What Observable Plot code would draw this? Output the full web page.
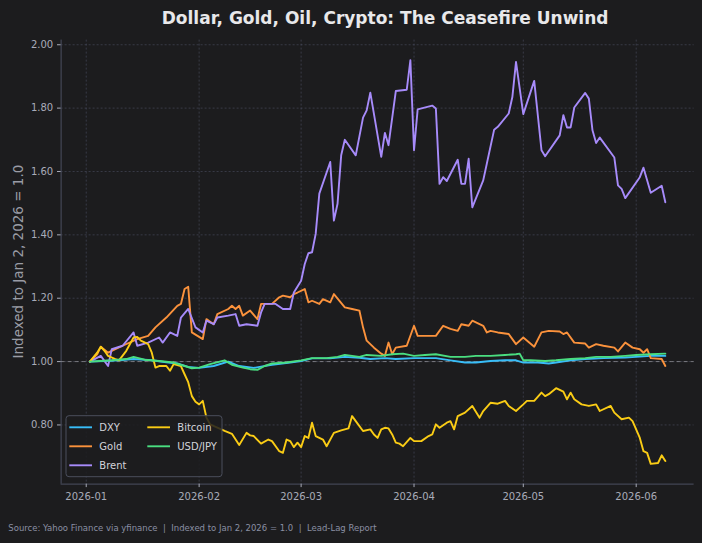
<!DOCTYPE html>
<html>
<head>
<meta charset="utf-8">
<script src="https://cdn.jsdelivr.net/npm/d3@7"></script>
<script src="https://cdn.jsdelivr.net/npm/@observablehq/plot@0.6"></script>
<style>
  html, body { margin: 0; padding: 0; background: #1c1c1e; }
  #chart svg { display: block; }
</style>
</head>
<body>
<div id="chart"></div>
<script>
// Series, in drawing order
const seriesNames = ["DXY", "Gold", "Brent", "Bitcoin", "USD/JPY"];
const seriesColors = ["#38bdf8", "#fb923c", "#a78bfa", "#facc15", "#4ade80"];

// Index values (Jan 2, 2026 = 1.0)
const dxyDates = ["2026-01-02","2026-01-06","2026-01-10","2026-01-14","2026-01-19","2026-01-23","2026-01-26","2026-01-29","2026-02-01","2026-02-05","2026-02-09","2026-02-12","2026-02-16","2026-02-18","2026-02-21","2026-02-26","2026-03-01","2026-03-04","2026-03-09","2026-03-13","2026-03-17","2026-03-20","2026-03-24","2026-03-27","2026-04-01","2026-04-07","2026-04-11","2026-04-15","2026-04-18","2026-04-22","2026-04-26","2026-04-29","2026-05-01","2026-05-05","2026-05-08","2026-05-10","2026-05-14","2026-05-18","2026-05-23","2026-05-29","2026-06-01","2026-06-05","2026-06-09"];
const dxy = [1.000,1.002,1.004,1.008,1.004,0.998,0.994,0.983,0.980,0.986,1.000,0.986,0.980,0.984,0.990,0.997,1.002,1.010,1.010,1.015,1.012,1.008,1.011,1.008,1.011,1.011,1.004,0.997,0.997,1.002,1.004,1.004,0.997,0.997,0.994,0.997,1.004,1.008,1.011,1.013,1.015,1.018,1.018];

const goldDates = ["2026-01-02","2026-01-04","2026-01-05","2026-01-07","2026-01-09","2026-01-11","2026-01-15","2026-01-18","2026-01-20","2026-01-23","2026-01-26","2026-01-27","2026-01-28","2026-01-29","2026-01-30","2026-02-02","2026-02-03","2026-02-05","2026-02-06","2026-02-09","2026-02-10","2026-02-11","2026-02-12","2026-02-13","2026-02-15","2026-02-17","2026-02-18","2026-02-21","2026-02-23","2026-02-24","2026-02-26","2026-02-27","2026-02-28","2026-03-02","2026-03-03","2026-03-04","2026-03-06","2026-03-07","2026-03-09","2026-03-10","2026-03-13","2026-03-15","2026-03-17","2026-03-18","2026-03-19","2026-03-20","2026-03-21","2026-03-23","2026-03-24","2026-03-25","2026-03-26","2026-03-27","2026-03-30","2026-04-01","2026-04-02","2026-04-07","2026-04-09","2026-04-11","2026-04-13","2026-04-14","2026-04-16","2026-04-17","2026-04-20","2026-04-21","2026-04-22","2026-04-24","2026-04-27","2026-04-29","2026-05-01","2026-05-04","2026-05-06","2026-05-08","2026-05-11","2026-05-12","2026-05-13","2026-05-15","2026-05-18","2026-05-19","2026-05-21","2026-05-23","2026-05-26","2026-05-27","2026-05-29","2026-05-31","2026-06-02","2026-06-03","2026-06-04","2026-06-05","2026-06-08","2026-06-09"];
const gold = [1.000,1.023,1.047,1.028,1.039,1.050,1.071,1.081,1.108,1.139,1.176,1.182,1.229,1.236,1.092,1.071,1.134,1.118,1.150,1.166,1.176,1.166,1.176,1.145,1.161,1.134,1.182,1.182,1.203,1.208,1.203,1.213,1.218,1.229,1.187,1.192,1.182,1.197,1.187,1.213,1.171,1.166,1.161,1.108,1.066,1.055,1.044,1.025,1.018,1.060,1.023,1.044,1.050,1.113,1.081,1.081,1.113,1.103,1.097,1.118,1.113,1.129,1.113,1.092,1.097,1.092,1.087,1.055,1.076,1.047,1.092,1.097,1.095,1.087,1.092,1.060,1.057,1.044,1.055,1.050,1.044,1.032,1.060,1.044,1.039,1.028,1.039,1.011,1.008,0.986];

const brentDates = ["2026-01-02","2026-01-05","2026-01-07","2026-01-08","2026-01-11","2026-01-14","2026-01-15","2026-01-18","2026-01-21","2026-01-22","2026-01-24","2026-01-26","2026-01-27","2026-01-29","2026-01-31","2026-02-02","2026-02-03","2026-02-05","2026-02-06","2026-02-09","2026-02-11","2026-02-12","2026-02-14","2026-02-17","2026-02-18","2026-02-19","2026-02-22","2026-02-24","2026-02-26","2026-02-27","2026-03-01","2026-03-02","2026-03-03","2026-03-04","2026-03-05","2026-03-06","2026-03-09","2026-03-10","2026-03-11","2026-03-12","2026-03-13","2026-03-16","2026-03-18","2026-03-19","2026-03-20","2026-03-23","2026-03-24","2026-03-25","2026-03-27","2026-03-30","2026-03-31","2026-04-01","2026-04-02","2026-04-06","2026-04-07","2026-04-08","2026-04-09","2026-04-10","2026-04-13","2026-04-14","2026-04-15","2026-04-16","2026-04-17","2026-04-20","2026-04-21","2026-04-23","2026-04-24","2026-04-27","2026-04-28","2026-04-29","2026-05-01","2026-05-04","2026-05-06","2026-05-07","2026-05-11","2026-05-12","2026-05-13","2026-05-14","2026-05-15","2026-05-18","2026-05-19","2026-05-20","2026-05-21","2026-05-22","2026-05-26","2026-05-27","2026-05-28","2026-05-29","2026-06-02","2026-06-03","2026-06-05","2026-06-08","2026-06-09"];
const brent = [1.000,1.018,0.986,1.039,1.050,1.092,1.050,1.060,1.076,1.060,1.092,1.081,1.139,1.166,1.108,1.092,1.129,1.118,1.139,1.145,1.150,1.113,1.118,1.113,1.155,1.182,1.182,1.166,1.166,1.218,1.255,1.308,1.342,1.345,1.403,1.530,1.630,1.445,1.498,1.651,1.700,1.651,1.770,1.793,1.849,1.646,1.722,1.683,1.854,1.858,1.951,1.667,1.796,1.808,1.799,1.561,1.582,1.570,1.637,1.561,1.561,1.640,1.487,1.572,1.625,1.732,1.741,1.783,1.835,1.946,1.781,1.886,1.667,1.648,1.714,1.778,1.739,1.739,1.802,1.848,1.830,1.730,1.690,1.707,1.644,1.556,1.545,1.516,1.582,1.612,1.533,1.555,1.503];

const bitcoinDates = ["2026-01-02","2026-01-04","2026-01-05","2026-01-06","2026-01-07","2026-01-09","2026-01-10","2026-01-12","2026-01-14","2026-01-15","2026-01-16","2026-01-18","2026-01-19","2026-01-20","2026-01-21","2026-01-23","2026-01-24","2026-01-25","2026-01-27","2026-01-28","2026-01-29","2026-01-30","2026-01-31","2026-02-01","2026-02-02","2026-02-03","2026-02-04","2026-02-08","2026-02-10","2026-02-12","2026-02-14","2026-02-15","2026-02-16","2026-02-18","2026-02-20","2026-02-21","2026-02-23","2026-02-24","2026-02-25","2026-02-26","2026-02-27","2026-02-28","2026-03-01","2026-03-02","2026-03-03","2026-03-04","2026-03-05","2026-03-07","2026-03-08","2026-03-10","2026-03-12","2026-03-14","2026-03-15","2026-03-16","2026-03-18","2026-03-20","2026-03-21","2026-03-22","2026-03-23","2026-03-24","2026-03-25","2026-03-26","2026-03-27","2026-03-28","2026-03-29","2026-03-31","2026-04-01","2026-04-03","2026-04-05","2026-04-06","2026-04-07","2026-04-08","2026-04-10","2026-04-11","2026-04-12","2026-04-13","2026-04-15","2026-04-17","2026-04-19","2026-04-20","2026-04-22","2026-04-24","2026-04-26","2026-04-27","2026-04-29","2026-05-01","2026-05-02","2026-05-04","2026-05-06","2026-05-07","2026-05-08","2026-05-10","2026-05-12","2026-05-13","2026-05-14","2026-05-15","2026-05-17","2026-05-19","2026-05-21","2026-05-22","2026-05-25","2026-05-26","2026-05-28","2026-05-30","2026-05-31","2026-06-02","2026-06-03","2026-06-04","2026-06-05","2026-06-07","2026-06-08","2026-06-09"];
const bitcoin = [1.000,1.028,1.047,1.034,1.018,1.008,1.004,1.034,1.076,1.078,1.066,1.055,1.028,0.981,0.986,0.986,0.971,0.992,0.986,0.960,0.935,0.891,0.873,0.865,0.876,0.823,0.802,0.781,0.772,0.737,0.775,0.767,0.765,0.741,0.754,0.749,0.717,0.712,0.754,0.749,0.730,0.744,0.730,0.765,0.759,0.807,0.765,0.754,0.733,0.775,0.783,0.789,0.828,0.812,0.781,0.786,0.770,0.759,0.786,0.791,0.789,0.770,0.744,0.741,0.733,0.759,0.749,0.749,0.765,0.770,0.802,0.791,0.807,0.812,0.786,0.828,0.839,0.860,0.823,0.844,0.870,0.867,0.876,0.860,0.844,0.865,0.876,0.876,0.902,0.891,0.897,0.916,0.905,0.881,0.902,0.881,0.865,0.860,0.865,0.844,0.860,0.839,0.818,0.823,0.812,0.759,0.717,0.712,0.677,0.680,0.704,0.686];

const usdjpyDates = ["2026-01-02","2026-01-08","2026-01-12","2026-01-14","2026-01-17","2026-01-21","2026-01-25","2026-01-28","2026-01-30","2026-02-01","2026-02-04","2026-02-08","2026-02-10","2026-02-13","2026-02-15","2026-02-17","2026-02-19","2026-02-21","2026-02-25","2026-03-01","2026-03-04","2026-03-08","2026-03-11","2026-03-13","2026-03-15","2026-03-17","2026-03-19","2026-03-23","2026-03-26","2026-03-29","2026-04-01","2026-04-04","2026-04-07","2026-04-11","2026-04-15","2026-04-18","2026-04-22","2026-04-26","2026-04-29","2026-04-30","2026-05-01","2026-05-03","2026-05-07","2026-05-10","2026-05-14","2026-05-18","2026-05-21","2026-05-25","2026-05-29","2026-06-01","2026-06-05","2026-06-09"];
const usdjpy = [1.000,1.004,1.008,1.015,1.006,1.002,0.997,0.986,0.979,0.981,0.992,1.004,0.990,0.981,0.976,0.974,0.986,0.994,0.997,1.004,1.011,1.011,1.015,1.021,1.018,1.015,1.021,1.018,1.023,1.025,1.018,1.021,1.023,1.015,1.015,1.018,1.018,1.021,1.023,1.025,1.004,1.004,1.002,1.004,1.008,1.011,1.015,1.015,1.018,1.021,1.023,1.025];

// Axis ticks
const monthTicks = ["2026-01-01","2026-02-01","2026-03-01","2026-04-01","2026-05-01","2026-06-01"];
const yTicks = [0.8, 1.0, 1.2, 1.4, 1.6, 1.8, 2.0];

// Text
const titleText = "Dollar, Gold, Oil, Crypto: The Ceasefire Unwind";
const yLabelText = "Indexed to Jan 2, 2026 = 1.0";
const captionText = "Source: Yahoo Finance via yfinance  |  Indexed to Jan 2, 2026 = 1.0  |  Lead-Lag Report";

// Long table built from the arrays above
const parse = d3.utcParse("%Y-%m-%d");
const seriesData = [[dxyDates, dxy], [goldDates, gold], [brentDates, brent], [bitcoinDates, bitcoin], [usdjpyDates, usdjpy]];
const rows = seriesNames.flatMap((name, i) =>
  seriesData[i][0].map((d, j) => ({series: name, date: parse(d), value: seriesData[i][1][j]}))
);

// 5% padding around the data on both axes
const [d0, d1] = d3.extent(rows, r => r.date);
const dPad = (d1 - d0) * 0.05;
const xDomain = [new Date(+d0 - dPad), new Date(+d1 + dPad)];
const [v0, v1] = d3.extent(rows, r => r.value);
const vPad = (v1 - v0) * 0.05;
const yDomain = [v0 - vPad, v1 + vPad];

const W = 702, H = 543;
const mL = 60.6, mR = 8.4, mT = 39.6, mB = 59.4;
const FONT = "'DejaVu Sans', 'Liberation Sans', sans-serif";
const BG = "#1c1c1e";
const TICK = "#a8abb8";

const chart = Plot.plot({
  width: W, height: H,
  marginLeft: mL, marginRight: mR, marginTop: mT, marginBottom: mB,
  style: {background: BG, color: TICK, fontFamily: FONT, fontSize: "10px"},
  x: {type: "utc", domain: xDomain},
  y: {domain: yDomain},
  marks: [
    Plot.gridX(monthTicks.map(parse), {stroke: "#5a6078", strokeOpacity: 0.45, strokeDasharray: "2,2"}),
    Plot.gridY(yTicks, {stroke: "#5a6078", strokeOpacity: 0.45, strokeDasharray: "2,2"}),
    Plot.ruleY([yDomain[0]], {stroke: "#4c5062"}),
    Plot.ruleX([xDomain[0]], {stroke: "#4c5062"}),
    Plot.ruleY([1], {stroke: "#9a9aa0", strokeOpacity: 0.7, strokeDasharray: "4,3"}),
    // one line per series, each with its own colour
    ...seriesNames.map((name, i) =>
      Plot.line(rows.filter(r => r.series === name), {
        x: "date", y: "value", stroke: seriesColors[i],
        strokeWidth: 1.9, strokeLinejoin: "round", strokeLinecap: "round"
      })
    ),
    Plot.axisX(monthTicks.map(parse), {tickFormat: d3.utcFormat("%Y-%m"), tickSize: 3.5, tickPadding: 5, label: null}),
    Plot.axisY(yTicks, {tickFormat: d3.format(".2f"), tickSize: 3.6, tickPadding: 4.3, label: null})
  ]
});

const svg = d3.select(chart);

// Title, centred over the plotting area
svg.append("text")
  .attr("x", mL + (W - mL - mR) / 2 + 8).attr("y", 24)
  .attr("text-anchor", "middle")
  .attr("font-family", FONT).attr("font-size", 17).attr("font-weight", "bold")
  .attr("fill", "#e8e8ea")
  .text(titleText);

// Y axis label
svg.append("text")
  .attr("transform", `translate(18.3,${(mT + H - mB) / 2}) rotate(-90)`)
  .attr("text-anchor", "middle").attr("dominant-baseline", "central")
  .attr("font-family", FONT).attr("font-size", 13.5)
  .attr("fill", "#9a9ca6")
  .text(yLabelText);

// Caption
svg.append("text")
  .attr("x", 8.3).attr("y", 531.3)
  .attr("text-anchor", "start")
  .attr("font-family", FONT).attr("font-size", 8.5)
  .attr("fill", "#8a8fa3")
  .text(captionText);

// Legend: two columns, filled column by column, lower left inside the plot
const lgX = mL + 5.4, lgW = 156, lgH = 61;
const lgY = H - mB - 6.9 - lgH;
const legend = svg.append("g");
legend.append("rect")
  .attr("x", lgX).attr("y", lgY).attr("width", lgW).attr("height", lgH).attr("rx", 3)
  .attr("fill", BG).attr("fill-opacity", 0.85)
  .attr("stroke", "#4a4e5c").attr("stroke-width", 1);
seriesNames.forEach((name, i) => {
  const col = Math.floor(i / 3), row = i % 3;
  const cx = lgX + 3.3 + col * 78;
  const cy = lgY + 11.6 + row * 19;
  legend.append("line")
    .attr("x1", cx).attr("x2", cx + 22.7).attr("y1", cy).attr("y2", cy)
    .attr("stroke", seriesColors[i]).attr("stroke-width", 1.9);
  legend.append("text")
    .attr("x", cx + 30).attr("y", cy)
    .attr("text-anchor", "start")
    .attr("dominant-baseline", "central")
    .attr("font-family", FONT).attr("font-size", 10)
    .attr("fill", "#d2d3da")
    .text(name);
});

document.getElementById("chart").appendChild(chart);
</script>
</body>
</html>
